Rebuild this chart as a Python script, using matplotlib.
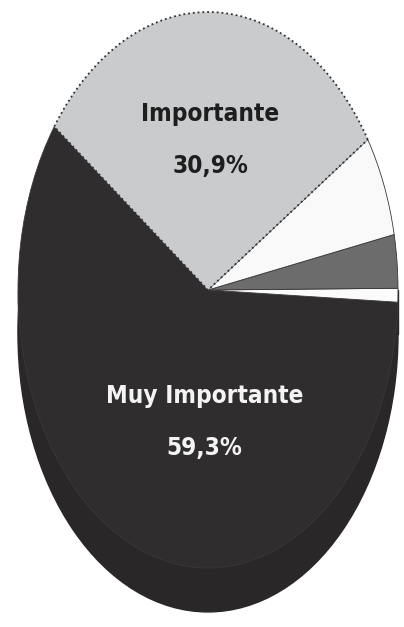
import matplotlib.pyplot as plt
from matplotlib.patches import Ellipse, Rectangle

# shares of each answer, counter-clockwise from the upper-left edge
labels = ['Muy Importante', 'Otro', 'Poco importante', 'Indiferente', 'Importante']
shares = [59.3, 0.8, 3.1, 5.9, 30.9]
shown = {'Muy Importante': '59,3%', 'Importante': '30,9%'}
colors = ['#2f2d2d', '#fbfbfb', '#6c6c6c', '#f9f9f9', '#c9cbcc']

fig = plt.figure(figsize=(4.04, 6.27), dpi=100)
ax = fig.add_axes([0, 0, 1, 1])

# side of the disc, drawn under the top face
depth = 0.158
side = '#292727'
ax.add_patch(Rectangle((-1, -depth), 2, depth, color=side, zorder=0))
ax.add_patch(Ellipse((0, -depth), 2, 2, color=side, zorder=0))

wedges, _ = ax.pie(shares, colors=colors, startangle=144, counterclock=True,
                   radius=1, center=(0, 0),
                   wedgeprops=dict(linewidth=0.6, edgecolor='#3a3838'))
wedges[4].set_linestyle(':')
wedges[4].set_linewidth(1.3)
wedges[4].set_edgecolor('#303030')
for w in wedges:
    w.set_zorder(1)

ax.set_aspect('auto')
ax.set_xlim(-1.0947, 1.0316)
ax.set_ylim(-1.2122, 1.0432)
ax.axis('off')

font = dict(family=['Liberation Sans Narrow', 'DejaVu Sans'], fontweight='bold',
            fontstretch='condensed', fontsize=17.5, ha='center', va='center',
            linespacing=2.45, zorder=3)
ax.text(0.01, 0.54, f"Importante\n{shown['Importante']}", color='#1e1e1e', **font)
ax.text(-0.02, -0.475, f"Muy Importante\n{shown['Muy Importante']}", color='#f4f4f4', **font)

fig.savefig('out.png', dpi=100)
